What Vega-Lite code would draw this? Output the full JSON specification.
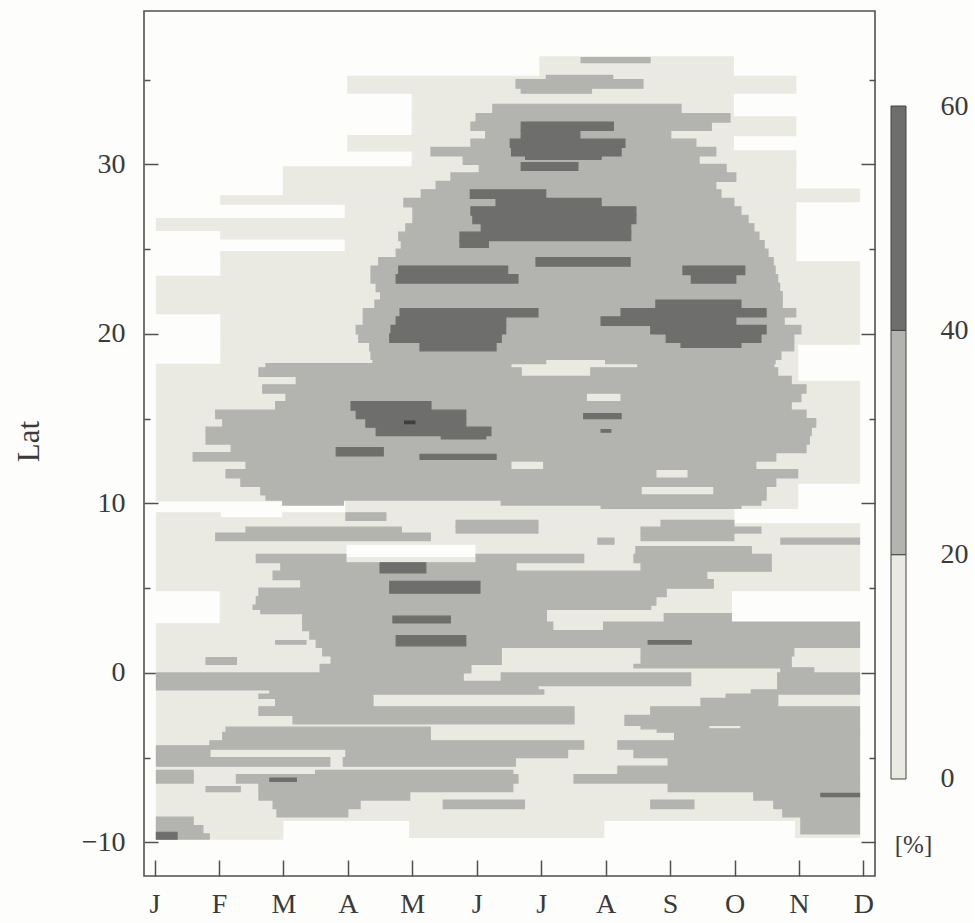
{
  "$schema": "https://vega.github.io/schema/vega-lite/v6.json",
  "background": "#fdfdfb",
  "padding": {"left": 12, "top": 10, "right": 5, "bottom": 5},
  "spacing": 13,
  "config": {
    "view": {"stroke": "#505050", "strokeWidth": 1.6},
    "axis": {
      "labelFont": "Liberation Serif", "titleFont": "Liberation Serif",
      "labelColor": "#3a3a3a", "titleColor": "#3a3a3a",
      "tickColor": "#505050", "tickWidth": 1.5,
      "grid": false, "domain": false, "labelFlush": false, "labelOverlap": false
    }
  },
  "datasets": {
    "cells": [
      {"m0":5.98,"m1":8.98,"y0":35.2,"y1":36.35,"p":10},
      {"m0":3.0,"m1":9.95,"y0":34.2,"y1":35.2,"p":10},
      {"m0":4.0,"m1":8.98,"y0":32.8,"y1":34.2,"p":10},
      {"m0":4.0,"m1":9.95,"y0":31.7,"y1":32.8,"p":10},
      {"m0":3.0,"m1":8.98,"y0":30.8,"y1":31.7,"p":10},
      {"m0":4.0,"m1":9.95,"y0":29.85,"y1":30.8,"p":10},
      {"m0":2.0,"m1":9.95,"y0":28.55,"y1":29.85,"p":10},
      {"m0":2.0,"m1":10.94,"y0":28.15,"y1":28.55,"p":10},
      {"m0":1.03,"m1":10.94,"y0":27.8,"y1":28.15,"p":10},
      {"m0":1.03,"m1":9.95,"y0":27.65,"y1":27.8,"p":10},
      {"m0":2.96,"m1":9.95,"y0":26.8,"y1":27.65,"p":10},
      {"m0":0.03,"m1":9.95,"y0":26.1,"y1":26.8,"p":10},
      {"m0":1.03,"m1":9.95,"y0":25.6,"y1":26.1,"p":10},
      {"m0":2.96,"m1":9.95,"y0":24.85,"y1":25.6,"p":10},
      {"m0":1.03,"m1":9.95,"y0":24.25,"y1":24.85,"p":10},
      {"m0":1.03,"m1":10.94,"y0":23.4,"y1":24.25,"p":10},
      {"m0":0.03,"m1":10.94,"y0":21.2,"y1":23.4,"p":10},
      {"m0":1.03,"m1":10.94,"y0":19.4,"y1":21.2,"p":10},
      {"m0":1.03,"m1":9.98,"y0":18.2,"y1":19.4,"p":10},
      {"m0":0.03,"m1":9.98,"y0":17.2,"y1":18.2,"p":10},
      {"m0":0.03,"m1":10.94,"y0":11.2,"y1":17.2,"p":10},
      {"m0":0.03,"m1":9.98,"y0":10.15,"y1":11.2,"p":10},
      {"m0":2.97,"m1":9.98,"y0":9.7,"y1":10.15,"p":10},
      {"m0":2.97,"m1":8.99,"y0":9.45,"y1":9.7,"p":10},
      {"m0":0.03,"m1":1.02,"y0":9.15,"y1":9.45,"p":10},
      {"m0":1.99,"m1":8.99,"y0":9.15,"y1":9.45,"p":10},
      {"m0":0.03,"m1":8.99,"y0":8.8,"y1":9.15,"p":10},
      {"m0":0.03,"m1":10.94,"y0":7.6,"y1":8.8,"p":10},
      {"m0":0.03,"m1":2.97,"y0":6.8,"y1":7.6,"p":10},
      {"m0":4.99,"m1":10.94,"y0":6.8,"y1":7.6,"p":10},
      {"m0":0.03,"m1":10.94,"y0":4.85,"y1":6.8,"p":10},
      {"m0":1.02,"m1":8.95,"y0":2.9,"y1":4.85,"p":10},
      {"m0":0.03,"m1":10.94,"y0":-8.7,"y1":2.9,"p":10},
      {"m0":0.03,"m1":1.99,"y0":-9.8,"y1":-8.7,"p":10},
      {"m0":3.96,"m1":6.97,"y0":-9.7,"y1":-8.7,"p":10},
      {"m0":9.95,"m1":10.94,"y0":-9.7,"y1":-8.7,"p":10},

      {"m0":6.62,"m1":7.69,"y0":36.0,"y1":36.3,"p":30},
      {"m0":6.08,"m1":7.11,"y0":35.0,"y1":35.25,"p":30},
      {"m0":5.61,"m1":7.58,"y0":34.5,"y1":35.0,"p":30},
      {"m0":5.69,"m1":6.78,"y0":34.2,"y1":34.5,"p":30},
      {"m0":5.25,"m1":8.17,"y0":33.0,"y1":33.55,"p":30},
      {"m0":4.99,"m1":8.93,"y0":32.5,"y1":33.0,"p":30},
      {"m0":4.91,"m1":8.64,"y0":32.0,"y1":32.5,"p":30},
      {"m0":5.14,"m1":8.01,"y0":31.5,"y1":32.0,"p":30},
      {"m0":4.91,"m1":8.40,"y0":31.0,"y1":31.5,"p":30},
      {"m0":4.29,"m1":8.71,"y0":30.5,"y1":31.0,"p":30},
      {"m0":4.79,"m1":8.45,"y0":30.0,"y1":30.5,"p":30},
      {"m0":5.04,"m1":8.87,"y0":29.5,"y1":30.0,"p":30},
      {"m0":4.60,"m1":9.02,"y0":29.0,"y1":29.5,"p":30},
      {"m0":4.37,"m1":8.71,"y0":28.5,"y1":29.0,"p":30},
      {"m0":4.14,"m1":8.79,"y0":28.0,"y1":28.5,"p":30},
      {"m0":3.87,"m1":8.99,"y0":27.5,"y1":28.0,"p":30},
      {"m0":4.01,"m1":9.10,"y0":27.0,"y1":27.5,"p":30},
      {"m0":4.01,"m1":9.21,"y0":26.5,"y1":27.0,"p":30},
      {"m0":3.90,"m1":9.30,"y0":26.0,"y1":26.5,"p":30},
      {"m0":3.79,"m1":9.38,"y0":25.5,"y1":26.0,"p":30},
      {"m0":3.83,"m1":9.46,"y0":25.0,"y1":25.5,"p":30},
      {"m0":3.75,"m1":9.52,"y0":24.5,"y1":25.0,"p":30},
      {"m0":3.48,"m1":9.60,"y0":24.0,"y1":24.5,"p":30},
      {"m0":3.36,"m1":9.63,"y0":23.5,"y1":24.0,"p":30},
      {"m0":3.36,"m1":9.67,"y0":23.0,"y1":23.5,"p":30},
      {"m0":3.44,"m1":9.70,"y0":22.5,"y1":23.0,"p":30},
      {"m0":3.51,"m1":9.74,"y0":22.0,"y1":22.5,"p":30},
      {"m0":3.42,"m1":9.74,"y0":21.5,"y1":22.0,"p":30},
      {"m0":3.24,"m1":9.95,"y0":21.0,"y1":21.5,"p":30},
      {"m0":3.24,"m1":9.77,"y0":20.5,"y1":21.0,"p":30},
      {"m0":3.13,"m1":10.03,"y0":20.0,"y1":20.5,"p":30},
      {"m0":3.17,"m1":9.92,"y0":19.5,"y1":20.0,"p":30},
      {"m0":3.34,"m1":9.92,"y0":19.0,"y1":19.5,"p":30},
      {"m0":3.36,"m1":9.72,"y0":18.5,"y1":19.0,"p":30},
      {"m0":3.39,"m1":6.07,"y0":18.25,"y1":18.5,"p":30},
      {"m0":7.00,"m1":9.63,"y0":18.25,"y1":18.5,"p":30},
      {"m0":1.73,"m1":5.53,"y0":18.0,"y1":18.25,"p":30},
      {"m0":7.50,"m1":9.61,"y0":18.0,"y1":18.25,"p":30},
      {"m0":1.62,"m1":5.69,"y0":17.5,"y1":18.0,"p":30},
      {"m0":6.77,"m1":9.67,"y0":17.5,"y1":18.0,"p":30},
      {"m0":2.20,"m1":9.88,"y0":17.0,"y1":17.5,"p":30},
      {"m0":1.68,"m1":10.11,"y0":16.5,"y1":17.0,"p":30},
      {"m0":2.04,"m1":6.70,"y0":16.0,"y1":16.5,"p":30},
      {"m0":7.24,"m1":10.03,"y0":16.0,"y1":16.5,"p":30},
      {"m0":1.88,"m1":9.88,"y0":15.5,"y1":16.0,"p":30},
      {"m0":0.95,"m1":10.11,"y0":15.0,"y1":15.5,"p":30},
      {"m0":1.06,"m1":10.26,"y0":14.5,"y1":15.0,"p":30},
      {"m0":0.80,"m1":10.19,"y0":14.0,"y1":14.5,"p":30},
      {"m0":0.80,"m1":10.16,"y0":13.5,"y1":14.0,"p":30},
      {"m0":1.19,"m1":10.11,"y0":13.0,"y1":13.5,"p":30},
      {"m0":0.60,"m1":9.64,"y0":12.5,"y1":13.0,"p":30},
      {"m0":1.42,"m1":5.53,"y0":12.0,"y1":12.5,"p":30},
      {"m0":6.04,"m1":9.33,"y0":12.0,"y1":12.5,"p":30},
      {"m0":1.11,"m1":7.78,"y0":11.5,"y1":12.0,"p":30},
      {"m0":8.28,"m1":9.98,"y0":11.5,"y1":12.0,"p":30},
      {"m0":1.34,"m1":9.64,"y0":11.0,"y1":11.5,"p":30},
      {"m0":1.65,"m1":7.55,"y0":10.5,"y1":11.0,"p":30},
      {"m0":8.68,"m1":9.49,"y0":10.5,"y1":11.0,"p":30},
      {"m0":1.73,"m1":9.49,"y0":10.2,"y1":10.5,"p":30},
      {"m0":1.99,"m1":2.93,"y0":9.9,"y1":10.2,"p":30},
      {"m0":5.38,"m1":9.41,"y0":9.9,"y1":10.2,"p":30},
      {"m0":6.93,"m1":9.10,"y0":9.7,"y1":9.9,"p":30},
      {"m0":2.97,"m1":3.59,"y0":9.0,"y1":9.45,"p":30},
      {"m0":4.68,"m1":5.95,"y0":8.6,"y1":9.0,"p":30},
      {"m0":7.86,"m1":8.99,"y0":8.6,"y1":9.0,"p":30},
      {"m0":1.42,"m1":3.83,"y0":8.25,"y1":8.6,"p":30},
      {"m0":4.68,"m1":5.95,"y0":8.25,"y1":8.6,"p":30},
      {"m0":7.55,"m1":9.41,"y0":8.25,"y1":8.6,"p":30},
      {"m0":0.95,"m1":4.28,"y0":7.8,"y1":8.25,"p":30},
      {"m0":7.55,"m1":8.99,"y0":7.8,"y1":8.25,"p":30},
      {"m0":6.88,"m1":7.13,"y0":7.6,"y1":7.95,"p":30},
      {"m0":9.72,"m1":10.94,"y0":7.6,"y1":7.95,"p":30},
      {"m0":7.47,"m1":9.26,"y0":7.0,"y1":7.45,"p":30},
      {"m0":1.58,"m1":2.97,"y0":6.5,"y1":7.0,"p":30},
      {"m0":4.99,"m1":6.66,"y0":6.5,"y1":7.0,"p":30},
      {"m0":7.44,"m1":9.57,"y0":6.5,"y1":7.0,"p":30},
      {"m0":1.96,"m1":5.61,"y0":6.0,"y1":6.5,"p":30},
      {"m0":7.55,"m1":9.57,"y0":6.0,"y1":6.5,"p":30},
      {"m0":1.84,"m1":8.57,"y0":5.5,"y1":6.0,"p":30},
      {"m0":2.27,"m1":8.67,"y0":5.0,"y1":5.5,"p":30},
      {"m0":1.62,"m1":7.94,"y0":4.5,"y1":5.0,"p":30},
      {"m0":1.58,"m1":7.78,"y0":4.0,"y1":4.5,"p":30},
      {"m0":1.53,"m1":7.70,"y0":3.75,"y1":4.0,"p":30},
      {"m0":1.65,"m1":6.08,"y0":3.5,"y1":3.75,"p":30},
      {"m0":2.30,"m1":6.08,"y0":3.0,"y1":3.5,"p":30},
      {"m0":7.91,"m1":8.95,"y0":3.0,"y1":3.5,"p":30},
      {"m0":2.30,"m1":6.18,"y0":2.5,"y1":3.0,"p":30},
      {"m0":6.97,"m1":10.94,"y0":2.5,"y1":3.0,"p":30},
      {"m0":2.41,"m1":10.94,"y0":2.0,"y1":2.5,"p":30},
      {"m0":2.51,"m1":10.94,"y0":1.5,"y1":2.0,"p":30},
      {"m0":1.88,"m1":2.35,"y0":1.7,"y1":1.9,"p":30},
      {"m0":2.61,"m1":5.38,"y0":1.0,"y1":1.5,"p":30},
      {"m0":7.55,"m1":9.92,"y0":1.0,"y1":1.5,"p":30},
      {"m0":2.74,"m1":5.38,"y0":0.5,"y1":1.0,"p":30},
      {"m0":7.55,"m1":9.88,"y0":0.5,"y1":1.0,"p":30},
      {"m0":0.80,"m1":1.27,"y0":0.5,"y1":0.9,"p":30},
      {"m0":2.57,"m1":4.91,"y0":0.0,"y1":0.5,"p":30},
      {"m0":7.44,"m1":9.88,"y0":0.3,"y1":0.5,"p":30},
      {"m0":9.72,"m1":10.23,"y0":0.0,"y1":0.3,"p":30},
      {"m0":0.03,"m1":4.79,"y0":-0.5,"y1":0.0,"p":30},
      {"m0":5.38,"m1":8.32,"y0":-0.5,"y1":0.0,"p":30},
      {"m0":9.67,"m1":10.94,"y0":-0.5,"y1":0.0,"p":30},
      {"m0":0.03,"m1":5.95,"y0":-1.0,"y1":-0.5,"p":30},
      {"m0":5.95,"m1":8.32,"y0":-0.75,"y1":-0.5,"p":30},
      {"m0":9.67,"m1":10.94,"y0":-1.0,"y1":-0.5,"p":30},
      {"m0":1.79,"m1":6.04,"y0":-1.25,"y1":-1.0,"p":30},
      {"m0":9.26,"m1":10.94,"y0":-1.25,"y1":-1.0,"p":30},
      {"m0":1.62,"m1":3.39,"y0":-1.5,"y1":-1.25,"p":30},
      {"m0":8.87,"m1":9.67,"y0":-1.5,"y1":-1.25,"p":30},
      {"m0":1.88,"m1":3.39,"y0":-2.0,"y1":-1.5,"p":30},
      {"m0":8.48,"m1":9.67,"y0":-2.0,"y1":-1.5,"p":30},
      {"m0":1.62,"m1":6.51,"y0":-2.5,"y1":-2.0,"p":30},
      {"m0":7.70,"m1":10.94,"y0":-2.5,"y1":-2.0,"p":30},
      {"m0":2.15,"m1":6.51,"y0":-3.0,"y1":-2.5,"p":30},
      {"m0":7.30,"m1":10.94,"y0":-3.1,"y1":-2.5,"p":30},
      {"m0":7.55,"m1":8.60,"y0":-3.3,"y1":-3.1,"p":30},
      {"m0":9.10,"m1":10.94,"y0":-3.3,"y1":-3.1,"p":30},
      {"m0":7.80,"m1":10.94,"y0":-3.5,"y1":-3.3,"p":30},
      {"m0":1.11,"m1":4.28,"y0":-3.5,"y1":-3.2,"p":30},
      {"m0":1.06,"m1":4.28,"y0":-4.0,"y1":-3.5,"p":30},
      {"m0":8.07,"m1":10.94,"y0":-4.0,"y1":-3.5,"p":30},
      {"m0":0.86,"m1":6.66,"y0":-4.5,"y1":-4.0,"p":30},
      {"m0":0.03,"m1":0.86,"y0":-4.5,"y1":-4.3,"p":30},
      {"m0":7.19,"m1":10.94,"y0":-4.5,"y1":-4.0,"p":30},
      {"m0":0.03,"m1":0.86,"y0":-5.0,"y1":-4.5,"p":30},
      {"m0":2.97,"m1":6.41,"y0":-5.0,"y1":-4.5,"p":30},
      {"m0":7.44,"m1":10.94,"y0":-5.0,"y1":-4.5,"p":30},
      {"m0":0.03,"m1":2.72,"y0":-5.5,"y1":-5.0,"p":30},
      {"m0":2.93,"m1":5.60,"y0":-5.5,"y1":-5.0,"p":30},
      {"m0":7.97,"m1":10.94,"y0":-5.5,"y1":-5.0,"p":30},
      {"m0":0.03,"m1":0.60,"y0":-6.0,"y1":-5.75,"p":30},
      {"m0":2.50,"m1":5.56,"y0":-6.0,"y1":-5.75,"p":30},
      {"m0":7.19,"m1":10.94,"y0":-6.0,"y1":-5.5,"p":30},
      {"m0":0.03,"m1":0.60,"y0":-6.5,"y1":-6.0,"p":30},
      {"m0":1.27,"m1":5.64,"y0":-6.5,"y1":-6.0,"p":30},
      {"m0":6.51,"m1":10.94,"y0":-6.5,"y1":-6.0,"p":30},
      {"m0":0.80,"m1":1.33,"y0":-7.0,"y1":-6.7,"p":30},
      {"m0":1.62,"m1":5.56,"y0":-7.0,"y1":-6.5,"p":30},
      {"m0":7.97,"m1":10.94,"y0":-7.0,"y1":-6.5,"p":30},
      {"m0":1.62,"m1":3.96,"y0":-7.5,"y1":-7.0,"p":30},
      {"m0":9.30,"m1":10.94,"y0":-7.5,"y1":-7.0,"p":30},
      {"m0":1.84,"m1":3.19,"y0":-8.0,"y1":-7.5,"p":30},
      {"m0":4.48,"m1":5.74,"y0":-8.0,"y1":-7.5,"p":30},
      {"m0":7.70,"m1":8.37,"y0":-8.0,"y1":-7.5,"p":30},
      {"m0":9.61,"m1":10.94,"y0":-8.0,"y1":-7.5,"p":30},
      {"m0":1.90,"m1":3.00,"y0":-8.5,"y1":-8.0,"p":30},
      {"m0":9.75,"m1":10.94,"y0":-8.5,"y1":-8.0,"p":30},
      {"m0":0.03,"m1":0.60,"y0":-9.0,"y1":-8.5,"p":30},
      {"m0":10.03,"m1":10.94,"y0":-9.0,"y1":-8.5,"p":30},
      {"m0":0.03,"m1":0.75,"y0":-9.5,"y1":-9.0,"p":30},
      {"m0":10.03,"m1":10.94,"y0":-9.5,"y1":-9.0,"p":30},
      {"m0":0.03,"m1":0.85,"y0":-9.8,"y1":-9.5,"p":30},

      {"m0":5.69,"m1":7.12,"y0":32.0,"y1":32.5,"p":50},
      {"m0":5.69,"m1":6.60,"y0":31.5,"y1":32.0,"p":50},
      {"m0":5.52,"m1":7.30,"y0":31.0,"y1":31.5,"p":50},
      {"m0":5.54,"m1":7.24,"y0":30.5,"y1":31.0,"p":50},
      {"m0":5.76,"m1":6.93,"y0":30.3,"y1":30.5,"p":50},
      {"m0":5.69,"m1":6.57,"y0":29.65,"y1":30.1,"p":50},
      {"m0":4.90,"m1":6.07,"y0":28.0,"y1":28.5,"p":50},
      {"m0":5.30,"m1":6.93,"y0":27.5,"y1":28.0,"p":50},
      {"m0":4.91,"m1":7.47,"y0":27.0,"y1":27.5,"p":50},
      {"m0":4.94,"m1":7.47,"y0":26.5,"y1":27.0,"p":50},
      {"m0":5.07,"m1":7.39,"y0":26.0,"y1":26.5,"p":50},
      {"m0":4.74,"m1":7.39,"y0":25.5,"y1":26.0,"p":50},
      {"m0":4.74,"m1":5.18,"y0":25.1,"y1":25.5,"p":50},
      {"m0":5.92,"m1":7.38,"y0":24.0,"y1":24.5,"p":50},
      {"m0":8.20,"m1":9.16,"y0":23.5,"y1":24.0,"p":50},
      {"m0":3.79,"m1":5.48,"y0":23.5,"y1":24.0,"p":50},
      {"m0":8.33,"m1":9.02,"y0":23.0,"y1":23.5,"p":50},
      {"m0":3.75,"m1":5.64,"y0":23.0,"y1":23.5,"p":50},
      {"m0":3.81,"m1":5.95,"y0":21.0,"y1":21.5,"p":50},
      {"m0":3.75,"m1":5.45,"y0":20.5,"y1":21.0,"p":50},
      {"m0":3.67,"m1":5.45,"y0":20.0,"y1":20.5,"p":50},
      {"m0":3.65,"m1":5.38,"y0":19.5,"y1":20.0,"p":50},
      {"m0":4.12,"m1":5.30,"y0":19.0,"y1":19.5,"p":50},
      {"m0":7.78,"m1":9.10,"y0":21.5,"y1":22.0,"p":50},
      {"m0":7.24,"m1":9.49,"y0":21.0,"y1":21.5,"p":50},
      {"m0":6.93,"m1":9.02,"y0":20.5,"y1":21.0,"p":50},
      {"m0":7.70,"m1":9.49,"y0":20.0,"y1":20.5,"p":50},
      {"m0":7.94,"m1":9.41,"y0":19.5,"y1":20.0,"p":50},
      {"m0":8.17,"m1":9.10,"y0":19.2,"y1":19.5,"p":50},
      {"m0":3.05,"m1":4.29,"y0":15.5,"y1":16.0,"p":50},
      {"m0":3.13,"m1":4.83,"y0":15.0,"y1":15.5,"p":50},
      {"m0":3.28,"m1":4.83,"y0":14.5,"y1":15.0,"p":50},
      {"m0":3.44,"m1":5.22,"y0":14.0,"y1":14.5,"p":50},
      {"m0":4.45,"m1":5.14,"y0":13.8,"y1":14.0,"p":50},
      {"m0":6.66,"m1":7.24,"y0":15.0,"y1":15.3,"p":50},
      {"m0":6.93,"m1":7.08,"y0":14.2,"y1":14.35,"p":50},
      {"m0":2.82,"m1":3.55,"y0":12.8,"y1":13.3,"p":50},
      {"m0":4.12,"m1":5.30,"y0":12.6,"y1":12.9,"p":50},
      {"m0":3.50,"m1":4.21,"y0":5.9,"y1":6.5,"p":50},
      {"m0":3.65,"m1":5.05,"y0":4.7,"y1":5.4,"p":50},
      {"m0":3.70,"m1":4.59,"y0":2.95,"y1":3.35,"p":50},
      {"m0":3.75,"m1":4.83,"y0":1.6,"y1":2.2,"p":50},
      {"m0":7.66,"m1":8.33,"y0":1.7,"y1":1.9,"p":50},
      {"m0":1.79,"m1":2.20,"y0":-6.4,"y1":-6.2,"p":50},
      {"m0":10.34,"m1":10.94,"y0":-7.3,"y1":-7.1,"p":50},
      {"m0":0.03,"m1":0.35,"y0":-9.8,"y1":-9.4,"p":50},

      {"m0":3.88,"m1":4.04,"y0":14.7,"y1":14.85,"p":70}
    ],
    "bar": [
      {"lo":0,"hi":20,"p":10},
      {"lo":20,"hi":40,"p":30},
      {"lo":40,"hi":60,"p":50}
    ]
  },
  "hconcat": [
    {
      "width": 731,
      "height": 865,
      "data": {"name": "cells"},
      "encoding": {
        "x": {
          "field": "m0", "type": "quantitative",
          "scale": {"domain": [-0.163, 11.18], "nice": false, "zero": false},
          "axis": {
            "orient": "bottom",
            "values": [0,1,2,3,4,5,6,7,8,9,10,11],
            "labelExpr": "['J','F','M','A','M','J','J','A','S','O','N','D'][datum.value]",
            "tickSize": -16, "labelPadding": 30, "labelFontSize": 28, "title": null
          }
        },
        "x2": {"field": "m1"},
        "color": {
          "field": "p", "type": "quantitative",
          "scale": {"type": "threshold", "domain": [20, 40, 60], "range": ["#eaeae3", "#b3b3b0", "#6e6e6c", "#3e3e3e"]},
          "legend": null
        },
        "stroke": {
          "field": "p", "type": "quantitative",
          "scale": {"type": "threshold", "domain": [20, 40, 60], "range": ["#eaeae3", "#b3b3b0", "#6e6e6c", "#3e3e3e"]},
          "legend": null
        }
      },
      "layer": [
        {
          "transform": [{"filter": "datum.p < 20"}],
          "mark": {"type": "rect", "strokeWidth": 1.2},
          "encoding": {
            "y": {
              "field": "y0", "type": "quantitative",
              "scale": {"domain": [-11.98, 39.05], "nice": false, "zero": false},
              "axis": {
                "orient": "left", "values": [-10, 0, 10, 20, 30],
                "tickSize": -14, "labelPadding": 33, "labelFontSize": 28,
                "title": "Lat", "titleFontSize": 31, "titleFontWeight": "normal",
                "titleAngle": -90, "titleX": -106, "titleY": 430,
                "titleAlign": "center", "titleBaseline": "alphabetic"
              }
            },
            "y2": {"field": "y1"}
          }
        },
        {
          "transform": [{"filter": "datum.p >= 20 && datum.p < 40"}],
          "mark": {"type": "rect", "strokeWidth": 1.2},
          "encoding": {
            "y": {
              "field": "y0", "type": "quantitative",
              "scale": {"domain": [-11.98, 39.05], "nice": false, "zero": false},
              "axis": {"orient": "left", "values": [-5, 5, 15, 25, 35], "tickSize": -6, "labels": false, "title": null}
            },
            "y2": {"field": "y1"}
          }
        },
        {
          "transform": [{"filter": "datum.p >= 40 && datum.p < 60"}],
          "mark": {"type": "rect", "strokeWidth": 1.2},
          "encoding": {
            "y": {
              "field": "y0", "type": "quantitative",
              "scale": {"domain": [-11.98, 39.05], "nice": false, "zero": false},
              "axis": {"orient": "right", "values": [-10, 0, 10, 20, 30], "tickSize": -14, "labels": false, "title": null}
            },
            "y2": {"field": "y1"}
          }
        },
        {
          "transform": [{"filter": "datum.p >= 60"}],
          "mark": {"type": "rect", "strokeWidth": 1.2},
          "encoding": {
            "y": {
              "field": "y0", "type": "quantitative",
              "scale": {"domain": [-11.98, 39.05], "nice": false, "zero": false},
              "axis": {"orient": "right", "values": [-5, 5, 15, 25, 35], "tickSize": -6, "labels": false, "title": null}
            },
            "y2": {"field": "y1"}
          }
        }
      ],
      "resolve": {"axis": {"y": "independent"}}
    },
    {
      "width": 15,
      "height": 865,
      "view": {"stroke": null},
      "data": {"name": "bar"},
      "mark": {"type": "rect", "stroke": "#454545", "strokeWidth": 1},
      "encoding": {
        "y": {
          "field": "lo", "type": "quantitative",
          "scale": {"domain": [-8.648, 68.47], "nice": false, "zero": false},
          "axis": {
            "orient": "right", "values": [0, 20, 40, 60], "ticks": false,
            "labelPadding": 34, "labelFontSize": 28,
            "title": "[%]", "titleFontSize": 25, "titleFontWeight": "normal",
            "titleAngle": 0, "titleX": 7, "titleY": 833,
            "titleAlign": "center", "titleBaseline": "middle"
          }
        },
        "y2": {"field": "hi"},
        "color": {
          "field": "p", "type": "quantitative",
          "scale": {"type": "threshold", "domain": [20, 40, 60], "range": ["#eaeae3", "#b3b3b0", "#6e6e6c", "#3e3e3e"]},
          "legend": null
        }
      }
    }
  ]
}
